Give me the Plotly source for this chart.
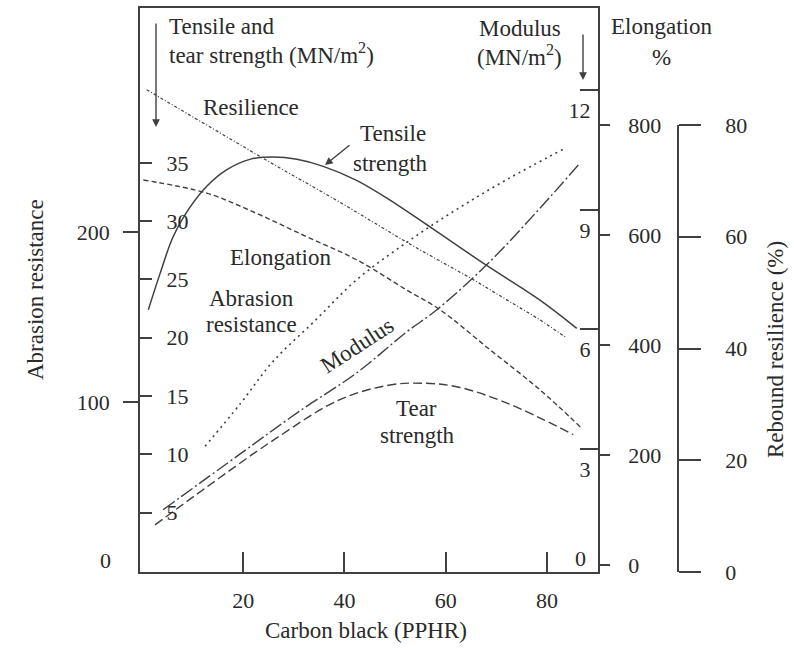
import plotly.graph_objects as go

W, H = 794, 648

# ---------------- data ----------------
tensile_x = [1.25, 3.56, 6.19, 9.49, 12.8, 16.7, 21.3, 25.9, 30.6, 35.8, 42.4, 49.0, 56.9, 68.1, 78.7, 85.9]
tensile_y = [22.4, 25.5, 28.7, 31.2, 33.0, 34.4, 35.3, 35.5, 35.3, 34.7, 33.5, 31.8, 29.5, 26.2, 23.2, 20.8]

tear_x = [2.57, 12.8, 25.9, 39.1, 49.0, 55.6, 62.2, 72.1, 85.2]
tear_y = [3.95, 7.2, 11.2, 14.7, 15.95, 16.1, 15.8, 14.4, 11.7]

modulus_x = [4.15, 19.4, 31.2, 42.4, 52.3, 58.2, 68.1, 78.7, 86.6]
modulus_y = [1.48, 2.88, 3.96, 4.91, 5.94, 6.49, 7.62, 9.05, 10.18]

abrasion_x = [12.45, 19.4, 25.9, 34.2, 42.4, 52.3, 62.2, 72.1, 83.3]
abrasion_y = [74, 99, 124, 148, 172, 194, 213.5, 231, 249]

elong_x = [0.26, 12.8, 22.7, 32.5, 42.4, 52.3, 58.9, 68.8, 78.7, 86.6]
elong_y = [700, 676, 639, 597, 555, 500, 464, 391, 318, 251]

resil_x = [0.93, 12.8, 25.9, 39.1, 52.3, 65.5, 78.7, 83.9]
resil_y = [86.3, 80.0, 73.0, 66.2, 59.0, 52.3, 45.1, 41.9]

x_ticks = [0, 20, 40, 60, 80]
abrasion_ticks = [100, 200]
tensile_ticks = [5, 10, 15, 20, 25, 30, 35]
modulus_ticks = [3, 6, 9, 12]
elong_ticks = [0, 200, 400, 600, 800]
rebound_ticks = [0, 20, 40, 60, 80]

# ---------------- helpers for page layout ----------------
def px(p):
    return p / W

def py(p):
    return 1 - p / H

INK = "#404040"
TXT = "#2a2a2a"
FONT = "Liberation Serif"
FS = 23
TFS = 22

fig = go.Figure()

spline = dict(color=INK, shape="spline", smoothing=1.0)

fig.add_trace(go.Scatter(x=abrasion_x, y=abrasion_y, mode="lines", yaxis="y",
                         line=dict(width=1.6, dash="2px,4px", **spline), showlegend=False))
fig.add_trace(go.Scatter(x=tensile_x, y=tensile_y, mode="lines", yaxis="y2",
                         line=dict(width=1.5, **spline), showlegend=False))
fig.add_trace(go.Scatter(x=tear_x, y=tear_y, mode="lines", yaxis="y2",
                         line=dict(width=1.4, dash="9px,4px", **spline), showlegend=False))
fig.add_trace(go.Scatter(x=modulus_x, y=modulus_y, mode="lines", yaxis="y3",
                         line=dict(width=1.4, dash="14px,3px,2px,3px", **spline), showlegend=False))
fig.add_trace(go.Scatter(x=elong_x, y=elong_y, mode="lines", yaxis="y4",
                         line=dict(width=1.4, dash="5px,3px", **spline), showlegend=False))
fig.add_trace(go.Scatter(x=resil_x, y=resil_y, mode="lines", yaxis="y6",
                         line=dict(width=1.2, dash="3px,2px,1px,2px", color=INK, shape="linear"),
                         showlegend=False))
# anchor trace so the free rebound axis is drawn
fig.add_trace(go.Scatter(x=[None], y=[None], mode="lines", yaxis="y5", showlegend=False, hoverinfo="skip"))

tickfont = dict(family=FONT, size=TFS, color=TXT)
x_dom = [px(140), px(598)]
y_dom = [py(572), py(8)]

common_ax = dict(showgrid=False, zeroline=False, automargin=False, tickfont=tickfont,
                 linecolor=INK, tickcolor=INK, linewidth=1.6, tickwidth=1.5)

fig.update_layout(
    width=W, height=H,
    margin=dict(l=0, r=0, t=0, b=0, autoexpand=False),
    paper_bgcolor="white", plot_bgcolor="rgba(0,0,0,0)",
    xaxis=dict(domain=x_dom, range=[-0.4, 90.1], tickvals=x_ticks, ticks="inside", ticklen=20,
               showline=True, mirror=True, anchor="y", ticklabelstandoff=8, **common_ax),
    yaxis=dict(domain=y_dom, range=[0, 332], tickvals=abrasion_ticks, ticks="outside", ticklen=15,
               showline=True, anchor="x", side="left", ticklabelstandoff=9, **common_ax),
    yaxis2=dict(overlaying="y", range=[-0.09, 48.28], tickvals=tensile_ticks, ticks="inside",
                ticklen=12, ticklabelposition="inside", showline=False, anchor="x", side="left",
                ticklabelstandoff=16, **common_ax),
    yaxis3=dict(overlaying="y", range=[-0.08, 14.06], tickvals=modulus_ticks, ticks="inside",
                ticklen=18, ticklabelposition="inside", showline=True, anchor="x", side="right",
                ticklabelshift=20, ticklabelstandoff=-9, **common_ax),
    yaxis4=dict(overlaying="y", range=[-12.7, 1012.7], tickvals=elong_ticks, ticks="outside",
                ticklen=10, showline=True, anchor="x", side="right", ticklabelstandoff=14, **common_ax),
    yaxis5=dict(domain=[py(572), py(125)], range=[0, 80], tickvals=rebound_ticks, ticks="outside",
                ticklen=22, showline=True, anchor="free", position=px(678), side="right",
                ticklabelstandoff=20, **common_ax),
    yaxis6=dict(overlaying="y", range=[0, 100.94], visible=False, anchor="x"),
)

def label(text, x, y, angle=0, xanchor="center", size=FS):
    fig.add_annotation(text=text, x=px(x), y=py(y), xref="paper", yref="paper",
                       showarrow=False, textangle=angle, xanchor=xanchor, yanchor="middle",
                       font=dict(family=FONT, size=size, color=TXT))

def arrow(x_head, y_head, x_tail, y_tail):
    fig.add_annotation(text="", x=px(x_head), y=py(y_head), xref="paper", yref="paper",
                       ax=x_tail - x_head, ay=y_tail - y_head, showarrow=True,
                       arrowhead=2, arrowsize=1.1, arrowwidth=1.4, arrowcolor=INK)

label("Tensile and", 167, 27, xanchor="left")
label("tear strength (MN/m<sup>2</sup>)", 167, 53, xanchor="left")
label("Resilience", 251, 108)
label("Tensile", 393, 133)
label("strength", 390, 163)
label("Elongation", 280, 257)
label("Abrasion", 251, 298)
label("resistance", 251, 324)
label("Modulus", 357, 345, angle=-33)
label("Tear", 416, 408)
label("strength", 417, 435)
label("Modulus", 520, 29)
label("(MN/m<sup>2</sup>)", 519, 55)
label("Elongation", 661, 27)
label("%", 661, 58)
label("Abrasion resistance", 35, 290, angle=-90)
label("Rebound resilience (%)", 775, 350, angle=-90)
label("Carbon black (PPHR)", 366, 630)
label("0", 580, 558, size=TFS)
label("0", 113, 560, xanchor="right", size=TFS)

arrow(156, 127, 156, 22)
arrow(583, 80, 583, 33)
arrow(325, 165, 351, 144)

fig.write_html("out.html", config={"displayModeBar": False},
               post_script="document.body.style.margin='0px';document.body.style.overflow='hidden';")
